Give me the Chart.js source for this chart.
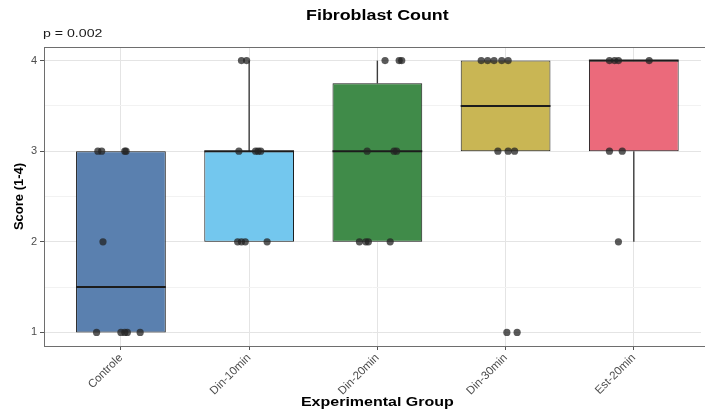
<!DOCTYPE html>
<html>
<head>
<meta charset="utf-8">
<script src="https://cdn.jsdelivr.net/npm/chart.js@4.4.1/dist/chart.umd.min.js"></script>
<style>
  body { margin: 0; background: #fff; }
  canvas { display: block; }
</style>
</head>
<body>
<canvas id="box-chart" width="705" height="413"></canvas>
<script>
// groups and box statistics (score 1-4)
const categories = ['Controle', 'Din-10min', 'Din-20min', 'Din-30min', 'Est-20min'];
const q1 = [1, 2, 2, 3, 3];
const medians = [1.5, 3, 3, 3.5, 4];
const q3 = [3, 3, 3.75, 4, 4];
const whiskerLow = [1, 2, 2, 3, 2];
const whiskerHigh = [3, 4, 4, 4, 4];
const boxColors = ['#5a80af', '#73c7ee', '#408b49', '#c9b654', '#eb6a7b'];

// individual observations per group, with the horizontal jitter they were plotted with
const scores = [
    [3, 3, 3, 3, 2, 1, 1, 1, 1, 1],
    [4, 4, 3, 3, 3, 3, 2, 2, 2, 2],
    [4, 4, 4, 3, 3, 3, 2, 2, 2, 2],
    [4, 4, 4, 4, 4, 3, 3, 3, 1, 1],
    [4, 4, 4, 4, 3, 3, 2]
];
const jitter = [
    [-0.18, -0.15, 0.03, 0.04, -0.14, -0.19, 0.00, 0.03, 0.05, 0.15],
    [-0.06, -0.02, -0.08, 0.05, 0.07, 0.09, -0.09, -0.06, -0.03, 0.14],
    [0.06, 0.17, 0.19, -0.08, 0.13, 0.15, -0.14, -0.09, -0.07, 0.10],
    [-0.19, -0.14, -0.09, -0.03, 0.02, -0.06, 0.02, 0.07, 0.01, 0.09],
    [-0.19, -0.15, -0.12, 0.12, -0.19, -0.09, -0.12]
];

const yTickValues = [1, 1.5, 2, 2.5, 3, 3.5, 4];
const pValueText = 'p = 0.002';

const FONT = '"Liberation Sans", Arial, sans-serif';
const TEXT_STRETCH = 1.23;

const points = [];
scores.forEach((grp, g) => {
    grp.forEach((s, k) => points.push({x: g + 1 + jitter[g][k], y: s}));
});

// text drawn a bit wider than the font's natural width
function wideText(ctx, text, x, y) {
    ctx.save();
    ctx.translate(x, y);
    ctx.scale(TEXT_STRETCH, 1);
    ctx.fillText(text, 0, 0);
    ctx.restore();
}

// whiskers, panel border, medians and the text around the panel
const boxExtras = {
    id: 'boxExtras',
    beforeDatasetsDraw(chart) {
        const {ctx, chartArea, scales: {x, y}} = chart;
        ctx.save();
        ctx.strokeStyle = '#3c3c3c';
        ctx.lineWidth = 1.4;
        categories.forEach((c, i) => {
            const px = x.getPixelForValue(i + 1);
            ctx.beginPath();
            ctx.moveTo(px, y.getPixelForValue(whiskerHigh[i]));
            ctx.lineTo(px, y.getPixelForValue(q3[i]));
            ctx.moveTo(px, y.getPixelForValue(q1[i]));
            ctx.lineTo(px, y.getPixelForValue(whiskerLow[i]));
            ctx.stroke();
        });
        ctx.strokeStyle = '#6e6e6e';
        ctx.lineWidth = 1;
        ctx.strokeRect(chartArea.left + 0.5, chartArea.top + 0.5,
            chartArea.right - chartArea.left + 20, chartArea.bottom - chartArea.top);
        ctx.restore();
    },
    afterDatasetDraw(chart, args) {
        if (args.index !== 0) return;
        const {ctx, scales: {y}} = chart;
        const bars = chart.getDatasetMeta(0).data;
        ctx.save();
        ctx.strokeStyle = '#1c1c1c';
        ctx.lineWidth = 2;
        bars.forEach((bar, i) => {
            const py = y.getPixelForValue(medians[i]);
            ctx.beginPath();
            ctx.moveTo(bar.x - bar.width / 2, py);
            ctx.lineTo(bar.x + bar.width / 2, py);
            ctx.stroke();
        });
        ctx.restore();
    },
    afterDraw(chart) {
        const {ctx, chartArea, scales: {x}} = chart;
        const mid = x.getPixelForValue(3);
        ctx.save();
        ctx.fillStyle = '#000';
        ctx.textAlign = 'center';
        ctx.textBaseline = 'middle';
        ctx.font = 'bold 14.5px ' + FONT;
        wideText(ctx, 'Fibroblast Count', mid, 16);
        ctx.font = 'bold 13px ' + FONT;
        wideText(ctx, 'Experimental Group', mid, 402);
        ctx.textAlign = 'left';
        ctx.fillStyle = '#1a1a1a';
        ctx.font = '11.5px ' + FONT;
        wideText(ctx, pValueText, chartArea.left - 1, 34);
        ctx.restore();
    }
};

new Chart(document.getElementById('box-chart'), {
    type: 'bar',
    data: {
        datasets: [
            {
                type: 'bar',
                data: categories.map((c, i) => ({x: i + 1, y: [q1[i], q3[i]]})),
                backgroundColor: boxColors,
                borderColor: '#1a1a1a',
                borderWidth: 1,
                borderSkipped: false,
                barPercentage: 0.7,
                categoryPercentage: 1,
                order: 2
            },
            {
                type: 'scatter',
                data: points,
                pointRadius: 3.6,
                pointBackgroundColor: 'rgba(35,35,35,0.75)',
                pointBorderWidth: 0,
                order: 1
            }
        ]
    },
    options: {
        responsive: false,
        animation: false,
        devicePixelRatio: 1,
        layout: {padding: {top: 47, left: 0, right: 0, bottom: 0}},
        plugins: {
            legend: {display: false},
            tooltip: {enabled: false}
        },
        scales: {
            x: {
                type: 'linear',
                min: 0.4,
                max: 0.4 + 661 / 129,
                offset: false,
                afterBuildTicks: s => { s.ticks = categories.map((c, i) => ({value: i + 1})); },
                afterFit: s => { s.height = 67; },
                ticks: {
                    callback: (v, i) => categories[i],
                    autoSkip: false,
                    minRotation: 45,
                    maxRotation: 45,
                    color: '#4d4d4d',
                    font: {family: FONT, size: 11.5},
                    padding: 1
                },
                grid: {
                    offset: false,
                    color: '#e4e4e4',
                    tickColor: '#555555',
                    tickLength: 4
                },
                border: {display: false}
            },
            y: {
                type: 'linear',
                min: 0.85,
                max: 4.15,
                afterBuildTicks: s => { s.ticks = yTickValues.map(v => ({value: v})); },
                afterFit: s => { s.width = 44; },
                ticks: {
                    callback: v => Number.isInteger(v) ? String(v) : '',
                    color: '#4d4d4d',
                    font: {family: FONT, size: 11},
                    padding: 3
                },
                grid: {
                    color: c => (c.tick && Number.isInteger(c.tick.value)) ? '#e4e4e4' : '#f2f2f2',
                    tickColor: c => (c.tick && Number.isInteger(c.tick.value)) ? '#555555' : 'rgba(0,0,0,0)',
                    tickLength: 4
                },
                border: {display: false},
                title: {
                    display: true,
                    text: 'Score (1-4)',
                    color: '#000',
                    font: {family: FONT, size: 13, weight: 'bold'},
                    padding: {top: 12, bottom: 0}
                }
            }
        }
    },
    plugins: [boxExtras]
});
</script>
</body>
</html>
